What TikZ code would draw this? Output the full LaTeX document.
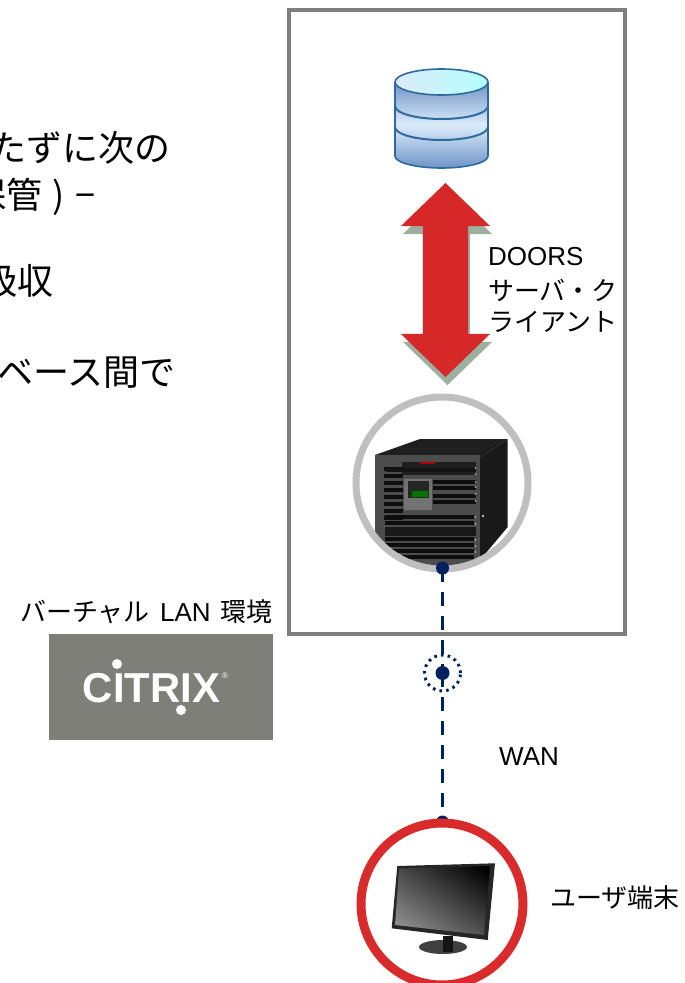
\documentclass[tikz,border=0pt]{standalone}
\usepackage{fontspec}
\setmainfont{Liberation Sans}
\newfontfamily\cjk{Noto Sans CJK JP}
\usetikzlibrary{shapes.arrows,shapes.geometric}
\definecolor{navy}{HTML}{002060}
\definecolor{framegray}{HTML}{7F7F7F}
\definecolor{ringgray}{HTML}{BFBFBF}
\definecolor{ringred}{HTML}{D92B2B}
\definecolor{arrowred}{HTML}{D62828}
\definecolor{arrowshadow}{HTML}{9DB0A0}
\definecolor{citrixgray}{HTML}{7F7F7A}
\definecolor{dbedge}{HTML}{2F6A9F}
\definecolor{dbside}{HTML}{6E94C8}
\definecolor{dblight}{HTML}{DCEBFA}
\tikzset{
 bigtext/.style={font=\fontsize{36}{40}\selectfont\cjk,anchor=east,inner sep=0,text=black},
 lab/.style={font=\fontsize{26}{30}\selectfont,anchor=west,inner sep=0,text=black},
 bluedot/.style={circle,fill=navy,inner sep=0,minimum size=#1},
 link/.style={navy,line width=3.6,dash pattern=on 14pt off 10pt},
 ring/.style={circle,draw=#1,fill=white,inner sep=0},
 blockarrow/.style={double arrow,rotate=90,inner xsep=0,inner ysep=22.5pt,minimum width=89pt,minimum height=194pt,double arrow head extend=22pt,double arrow tip angle=92,draw=none}
}
\begin{document}
\begin{tikzpicture}[x=1pt,y=-1pt]
\useasboundingbox (0,0) rectangle (685,983);
\clip (0,0) rectangle (685,983);
\fill[white] (0,0) rectangle (685,983);
% left text
\node[bigtext] (t1) at (171,148) {たずに次の};
\node[bigtext] (t2) at (96,197) {保管\hspace{0.3em})\hspace{0.3em}−};
\node[bigtext] (t3) at (54,281) {吸収};
\node[bigtext] (t4) at (176,373) {ベース間で};
% nodes
\node[bluedot=13pt] (srvdot) at (442.5,568) {};
\node[bluedot=14pt] (hub) at (442.5,673) {};
\node[bluedot=13pt] (mondot) at (442.5,822) {};
\draw[link] (srvdot.center) -- (hub.center);
\draw[link] (hub.center) -- (mondot.center);
\node[circle,draw=navy,line width=3pt,dash pattern=on 2.6pt off 4.2pt,minimum size=36pt,inner sep=0] (hubring) at (442.5,673) {};
% frame
\node[draw=framegray,line width=4pt,minimum width=336pt,minimum height=624pt,inner sep=0,outer sep=0] (frame) at (457,322) {};
% database
\shade[left color=dbside,right color=dbside,middle color=dblight,shading angle=0]
 (395,82) -- (395,156) arc[start angle=180,end angle=360,x radius=46.5,y radius=-12] -- (488,82) -- cycle;
\draw[dbedge,line width=1.6] (395,82) -- (395,156) arc[start angle=180,end angle=360,x radius=46.5,y radius=-12] -- (488,82);
\draw[dbedge,line width=2] (395,106) arc[start angle=180,end angle=360,x radius=46.5,y radius=-13];
\draw[dbedge,line width=2] (395,127) arc[start angle=180,end angle=360,x radius=46.5,y radius=-13];
\shade[left color=dblight,right color=cyan!30!white,draw=dbedge,line width=1.6] (441.5,82) ellipse[x radius=46.5,y radius=13];
% block arrow
\node[blockarrow,fill=arrowshadow] (arrowsh) at (447.5,288) {};
\node[blockarrow,fill=arrowred] (arrow) at (445.5,280) {};
% server
\node[ring=ringgray,line width=7pt,minimum size=172pt] (server) at (442,483) {};
\begin{scope}
\clip (442,483) circle (82.5);
\fill[black!88] (375,455) -- (420,439) -- (507.7,439) -- (480,458) -- cycle;
\fill[black!90] (480,458) -- (507.7,439) -- (507.7,527) -- (480,560) -- cycle;
\fill[black!70] (375,455) rectangle (480,570);
\fill[black!88] (402,462) rectangle (476,475);
\fill[red!70!black] (420,461.5) rectangle (435,464);
\foreach \y in {467,474,481,488,495,502,509,516}{\fill[black!95] (384,\y) rectangle (403,\y+3.5);}
\foreach \y in {480,486,494,500}{\fill[black!95] (433,\y) rectangle (476,\y+3.5);}
\fill[black!92] (386,468) rectangle (476,472);
\fill[black!55] (404,479) rectangle (432,510);
\fill[black!85] (408,481) rectangle (429,498);
\fill[green!45!black] (412,491) rectangle (428,497);
\foreach \y in {515,521,537,543,549,555}{\fill[black!95] (385,\y) rectangle (474,\y+3.5);}
\fill[black!90] (385,527) rectangle (476,536);
\foreach \y in {468,474,482,487,494,501,517,524,540,546,552}{\fill[black!25] (475.5,\y) circle (0.9);}
\fill[black!25] (483,516) circle (1.3);
\end{scope}
\node[bluedot=13pt] at (srvdot.center) {};
% monitor
\node[ring=ringred,line width=9pt,minimum size=162pt] (monitor) at (442,904) {};
\begin{scope}
\fill[black!85] (397.3,866) -- (495,863.3) -- (487.7,940) -- (391.7,928.3) -- cycle;
\clip (399,868.5) -- (490,866) -- (484,935) -- (395,925) -- cycle;
\shade[shading=axis,top color=black,bottom color=black!42,shading angle=-35] (385,855) rectangle (500,945);
\end{scope}
\fill[black!75] (443,947) ellipse[x radius=24,y radius=7];
\fill[black!92] (443,936) rectangle (453,952);
% citrix
\node[fill=citrixgray,minimum width=224pt,minimum height=106pt,inner sep=0] (citrix) at (161,687) {};
\node[font=\fontsize{41.8}{42}\selectfont\bfseries,text=white,inner sep=0] (citrixname) at (151.5,688) {CITRIX};
\fill[white] (117,664) circle (5);
\fill[white] (181,710) circle (5);
\node[font=\fontsize{8}{8}\selectfont,text=white!80,inner sep=0] (citrixreg) at (225,676) {®};
% labels
\node[lab] (doors) at (488,257) {DOORS};
\node[lab,font=\fontsize{26}{30}\selectfont\cjk] (l2) at (488,290) {サーバ・ク};
\node[lab,font=\fontsize{26}{30}\selectfont\cjk] (l3) at (488,322) {ライアント};
\node[lab] (vlan) at (20,612) {{\cjk バーチャル}\hspace{3pt} LAN \hspace{3pt}{\cjk 環境}};
\node[lab] (wan) at (499,757) {WAN};
\node[lab,font=\fontsize{26}{30}\selectfont\cjk] (user) at (550,898) {ユーザ端末};
\end{tikzpicture}
\end{document}
